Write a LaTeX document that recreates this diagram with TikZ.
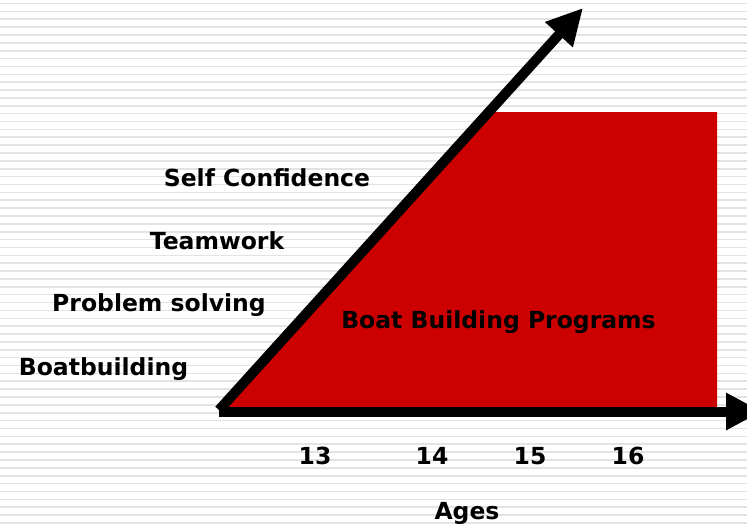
\documentclass[tikz,border=0pt]{standalone}
\usepackage{fontspec}
\setmainfont{DejaVu Sans}
\usetikzlibrary{arrows.meta,calc}

\tikzset{
  lbl/.style={font=\bfseries\fontsize{23.5}{26}\selectfont, inner sep=0pt},
  axis/.style={line width=10pt, -{Triangle[length=36pt,width=35pt]}},
}

\begin{document}
\begin{tikzpicture}[x=1pt,y=-1pt]

  \useasboundingbox (0,0) rectangle (747,527);
  \fill[white] (0,0) rectangle (747,527);
  \foreach \k in {0,...,66}
    \draw[gray!22, line width=1.6pt] (0,3.5+7.87*\k) -- (747,3.5+7.87*\k);

  \coordinate (orig) at (219,410);
  \coordinate (ytip) at (583,8);
  \coordinate (xtip) at (762,411.5);

  \fill[red!80!black] (orig) -- (489,112) -- (717,112) -- (717,410) -- cycle;

  \draw[axis] (orig) -- (ytip);
  \draw[axis] ($(orig)+(0,1.5)$) -- (xtip);

  \node (conf) [lbl] at (267,178) {Self Confidence};
  \node (team) [lbl] at (217,241) {Teamwork};
  \node (prob) [lbl] at (159,305) {Problem solving};
  \node (boat) [lbl] at (103.5,369) {Boatbuilding};
  \node (prog) [lbl] at (498.5,322) {Boat Building Programs};

  \node (a13) [lbl] at (315,456) {13};
  \node (a14) [lbl] at (432,456) {14};
  \node (a15) [lbl] at (530,456) {15};
  \node (a16) [lbl] at (628,456) {16};
  \node (ages) [lbl] at (467,513) {Ages};

\end{tikzpicture}
\end{document}
